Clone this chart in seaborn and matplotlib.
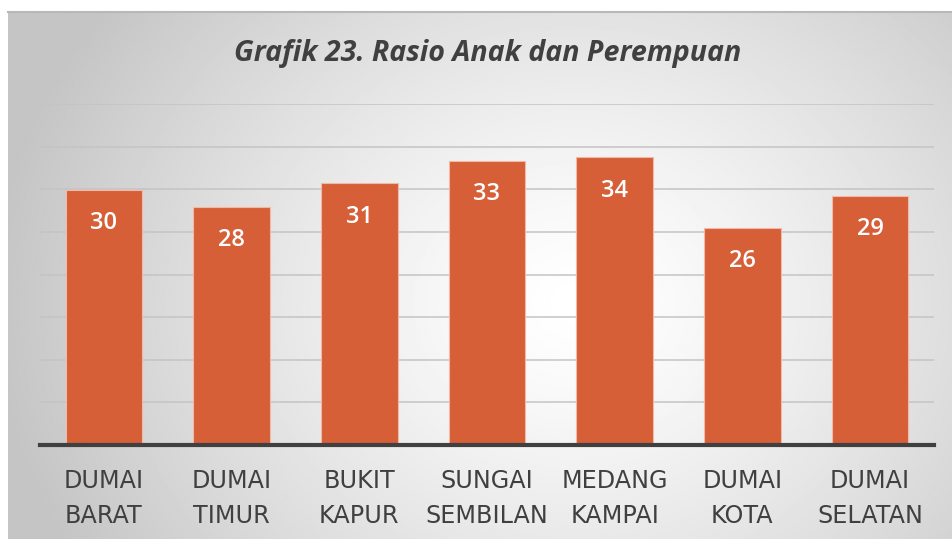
import matplotlib
matplotlib.use("Agg")
import matplotlib.pyplot as plt
import numpy as np
import pandas as pd
import seaborn as sns

# data
kecamatan = ["DUMAI\nBARAT", "DUMAI\nTIMUR", "BUKIT\nKAPUR", "SUNGAI\nSEMBILAN",
             "MEDANG\nKAMPAI", "DUMAI\nKOTA", "DUMAI\nSELATAN"]
rasio = [29.9, 27.9, 30.7, 33.3, 33.75, 25.5, 29.2]
label_rasio = ["30", "28", "31", "33", "34", "26", "29"]

df = pd.DataFrame({"kecamatan": kecamatan, "rasio": rasio})

sns.set_theme(style="white")
plt.rcParams["font.family"] = ["Open Sans", "DejaVu Sans"]

W, H = 952, 539
fig = plt.figure(figsize=(W / 100, H / 100), dpi=100)
fig.patch.set_facecolor("white")

## background panel with radial gradient
bg = fig.add_axes([8 / W, 0, (W - 8) / W, (H - 12) / H])
ny, nx = 300, 540
yy, xx = np.mgrid[0:ny, 0:nx]
cx, cy = nx * 0.6, ny * 0.55
r = np.sqrt(((xx - cx) / (nx * 0.62)) ** 2 + ((yy - cy) / (ny * 0.95)) ** 2)
shade = 1.0 - 0.23 * np.clip(r, 0, 1) ** 1.3
bg.imshow(shade, cmap="gray", vmin=0, vmax=1, aspect="auto", extent=[0, 1, 0, 1])
bg.set_xticks([])
bg.set_yticks([])
for s in ["left", "right", "bottom"]:
    bg.spines[s].set_visible(False)
bg.spines["top"].set_color("#b8b8b8")
bg.spines["top"].set_linewidth(1.5)

## main chart
ax = fig.add_axes([40 / W, (H - 445) / H, (934 - 40) / W, (445 - 104) / H])
ax.patch.set_alpha(0)
sns.barplot(data=df, x="kecamatan", y="rasio", color="#D65F38", width=0.6,
            saturation=1, edgecolor="#f2b9a6", linewidth=0.8, ax=ax, zorder=3)
ax.set_ylim(0, 40)
ax.set_yticks(np.arange(0, 41, 5))
ax.yaxis.grid(True, color="#c4c4c4", linewidth=1.1, zorder=0)
ax.set_axisbelow(True)
ax.tick_params(axis="y", left=False, labelleft=False)
ax.tick_params(axis="x", bottom=False, colors="#404040", pad=11.5)
for lbl in ax.get_xticklabels():
    lbl.set_family(["DejaVu Sans"])
    lbl.set_fontsize(17.2)
    lbl.set_linespacing(1.55)
ax.set_xlabel("")
ax.set_ylabel("")
for s in ["left", "right", "top"]:
    ax.spines[s].set_visible(False)
ax.spines["bottom"].set_color("#404040")
ax.spines["bottom"].set_linewidth(3)
ax.spines["bottom"].set_zorder(5)

for i, (v, t) in enumerate(zip(rasio, label_rasio)):
    ax.annotate(t, (i, v), xytext=(0, -24), textcoords="offset points",
                ha="center", va="center", color="white", fontsize=17,
                fontweight="semibold", zorder=6)

fig.text(488 / W, 1 - 53 / H, "Grafik 23. Rasio Anak dan Perempuan",
         ha="center", va="center", fontsize=20.6, fontstyle="italic",
         fontweight="bold", color="#404040")

fig.savefig("out.png", dpi=100)
